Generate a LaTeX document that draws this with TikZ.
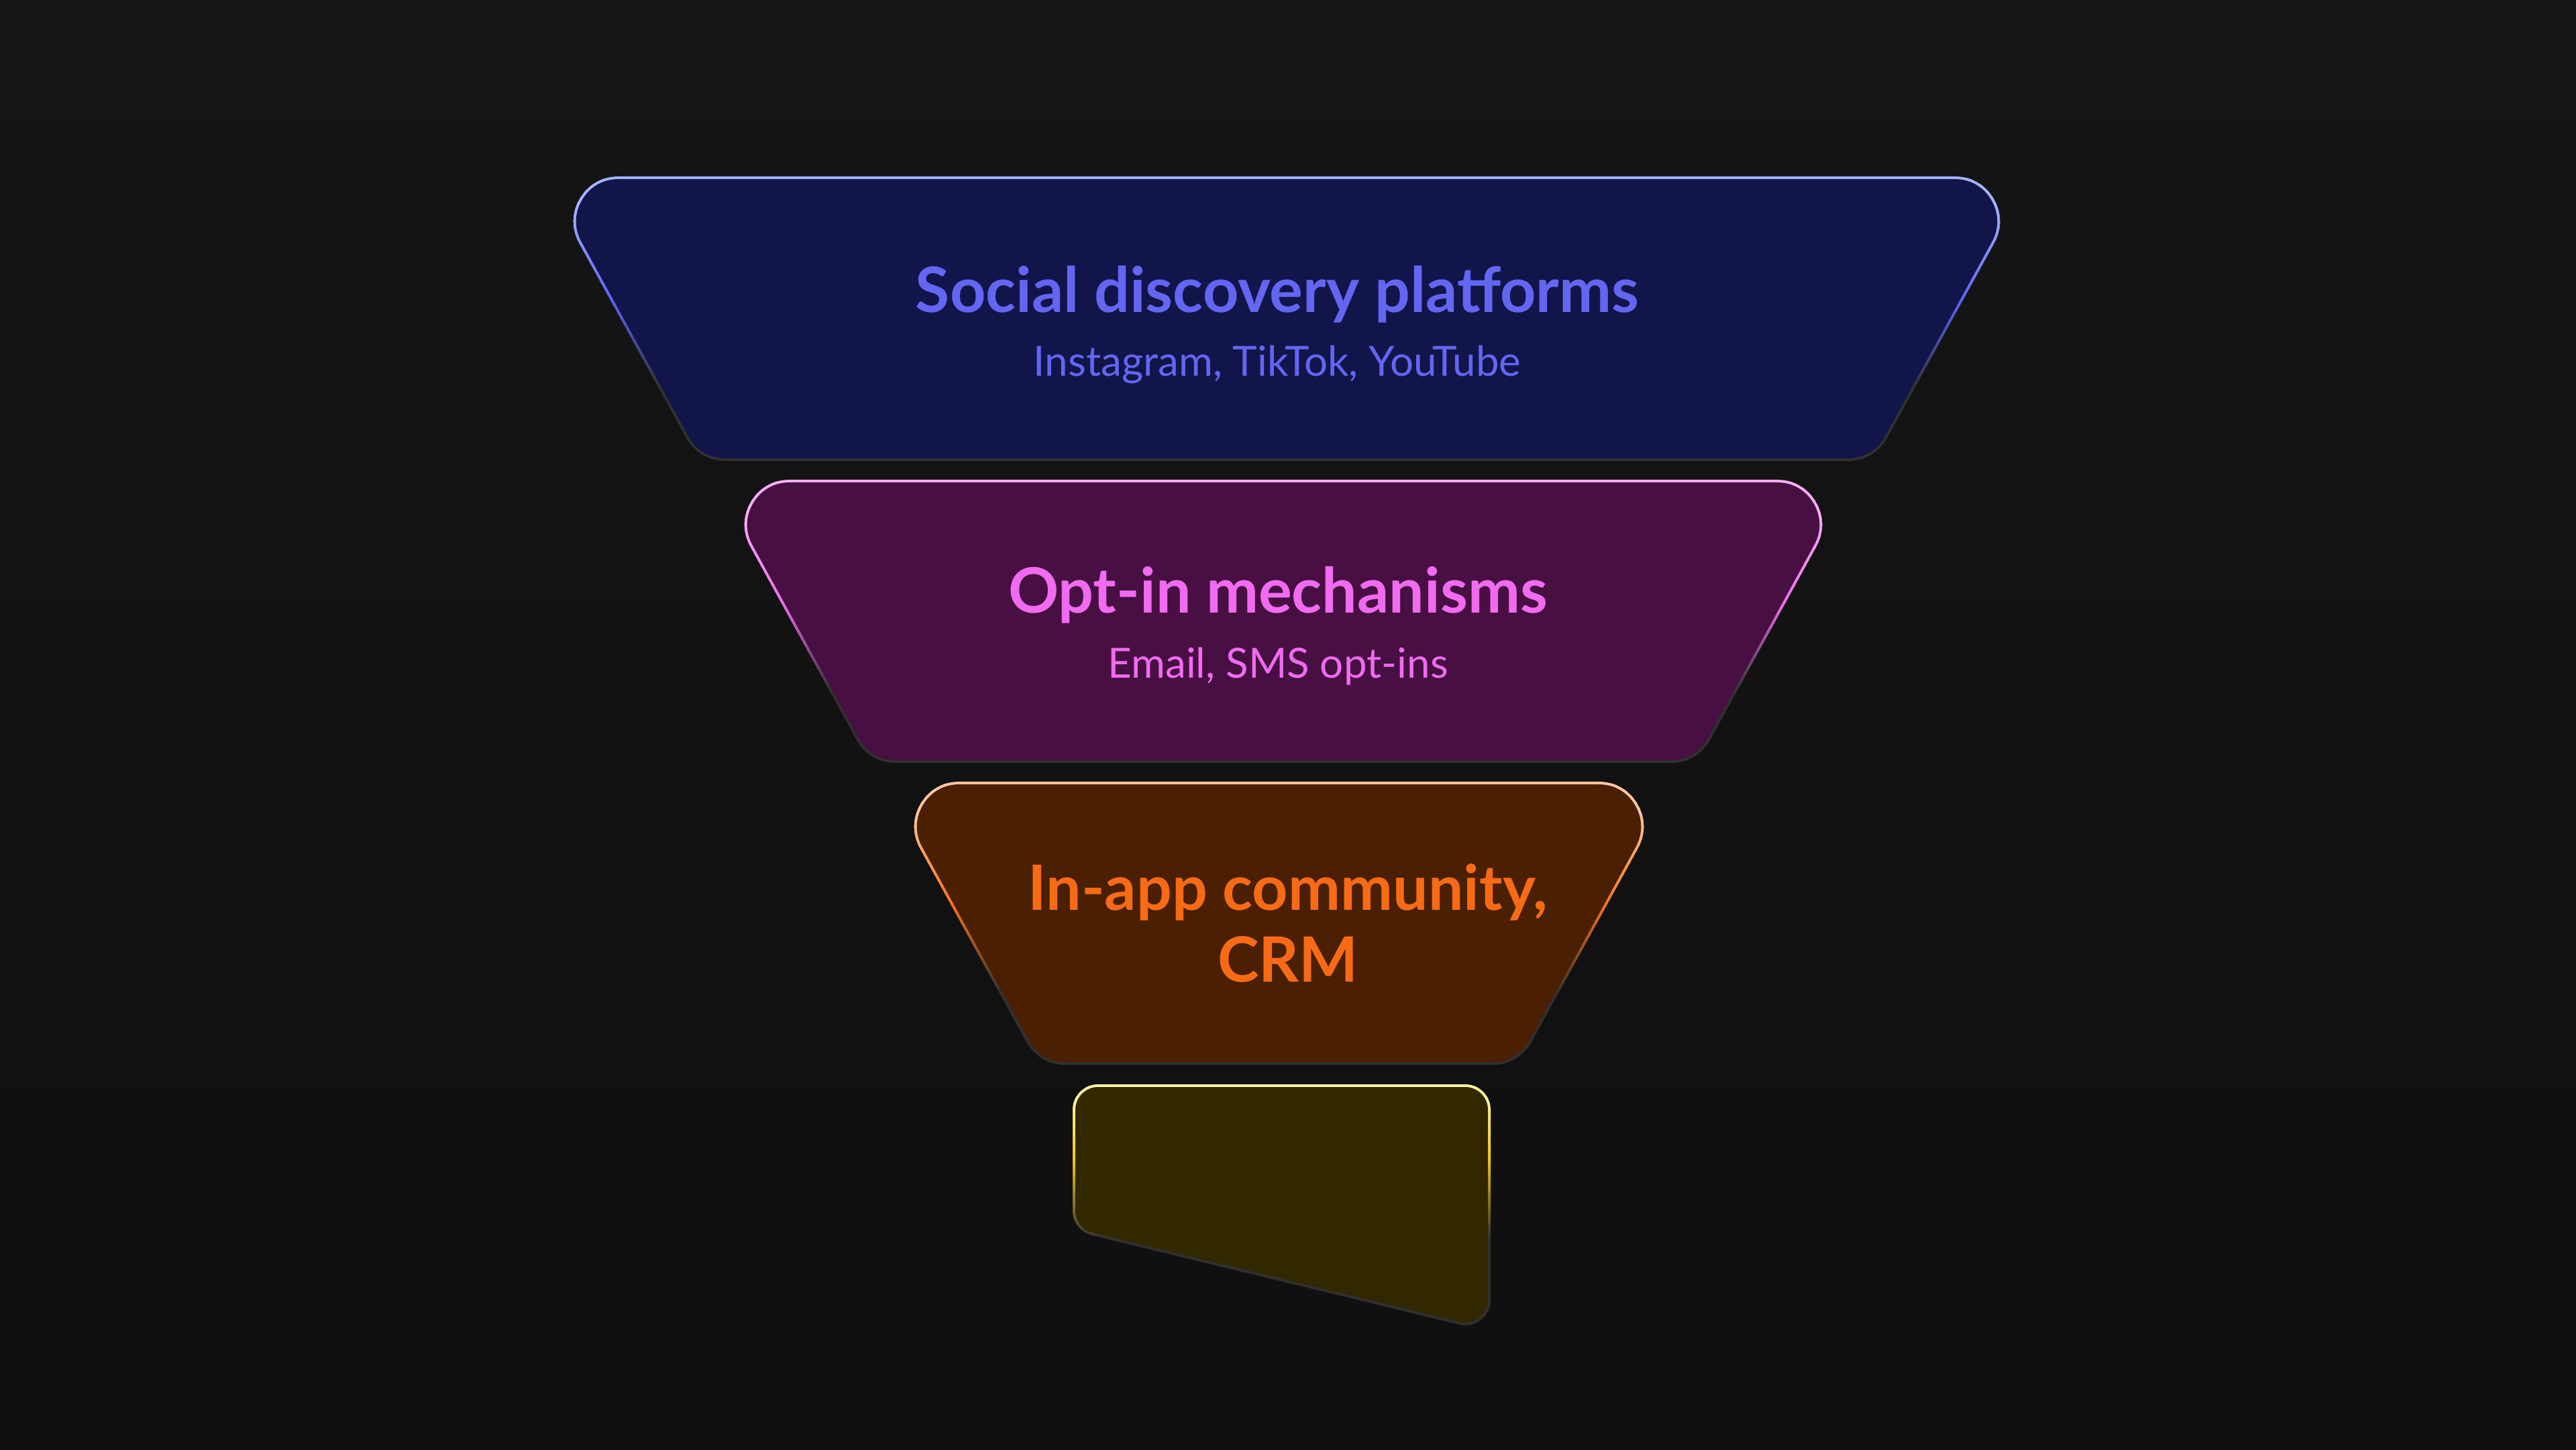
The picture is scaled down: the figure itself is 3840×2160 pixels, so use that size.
\documentclass[tikz,border=0pt]{standalone}
\usepackage{fontspec}
\setmainfont{Lato}
\usepackage{tikz}

\definecolor{bgtop}{HTML}{151515}
\definecolor{bgbot}{HTML}{0F0F0F}
\definecolor{rimdark}{HTML}{303030}
\definecolor{stageblue}{HTML}{12154A}
\definecolor{textblue}{HTML}{6366F1}
\definecolor{rimblueA}{HTML}{A5B4FC}
\definecolor{rimblueB}{HTML}{5E63F5}
\definecolor{stagepink}{HTML}{470F42}
\definecolor{textpink}{HTML}{F06BEF}
\definecolor{rimpinkA}{HTML}{F5B0F5}
\definecolor{rimpinkB}{HTML}{EC6FEC}
\definecolor{stageorange}{HTML}{4A1F02}
\definecolor{textorange}{HTML}{F76B15}
\definecolor{rimorangeA}{HTML}{FDC8A0}
\definecolor{rimorangeB}{HTML}{F97316}
\definecolor{stageyellow}{HTML}{312800}
\definecolor{rimyellowA}{HTML}{FEF3A0}
\definecolor{rimyellowB}{HTML}{FACC15}

% rim of a stage, coloured from top to bottom (light -> strong -> dark)
\def\rimA{0.12}\def\rimB{0.44}\def\rimC{0.75}
\newcommand{\stagerim}[6]{%
  \foreach \k in {0,...,47}{%
    \pgfmathsetmacro{\pa}{min(100,max(0,((\k+0.5)/48-\rimA)/(\rimB-\rimA)*100))}%
    \pgfmathsetmacro{\pb}{min(100,max(0,((\k+0.5)/48-\rimB)/(\rimC-\rimB)*100))}%
    \colorlet{rimc}{#5!\pa!#4}%
    \colorlet{rimc}{rimdark!\pb!rimc}%
    \begin{scope}
      \clip (0,{#2+(\k-0.2)/48*(#3-#2)}) rectangle (3840,{#2+(\k+1.2)/48*(#3-#2)});
      \draw[rimc,line width=#6,line join=round] #1;
    \end{scope}}}

\begin{document}
\begin{tikzpicture}[x=0.01cm,y=-0.01cm,
		stage/.style={fill=#1,draw=#1,line join=round},
		title/.style={font=\bfseries\fontsize{26.5}{30.2}\selectfont,inner sep=0pt,anchor=base},
		sub/.style={font=\fontsize{17.6}{21}\selectfont,inner sep=0pt,anchor=base}]
	%% background
	\shade[top color=bgtop,bottom color=bgbot] (0,0) rectangle (3840,2160);
	%% social discovery
	\stagerim{(922,330) -- (2914,330) -- (2754.5,620) -- (1081.5,620) -- cycle}{258}{692}{rimblueA}{rimblueB}{1.34cm}
	\filldraw[stage=stageblue,line width=1.26cm] (922,330) -- (2914,330) -- (2754.5,620) -- (1081.5,620) -- cycle;
	\node (social) at (1904,465) [title,text=textblue] {Social discovery platforms};
	\node (socialsub) at (1904,560) [sub,text=textblue] {Instagram, TikTok, YouTube};
	%% opt-in
	\stagerim{(1177,782) -- (2649,782) -- (2490.6,1070) -- (1335.4,1070) -- cycle}{710}{1142}{rimpinkA}{rimpinkB}{1.34cm}
	\filldraw[stage=stagepink,line width=1.26cm] (1177,782) -- (2649,782) -- (2490.6,1070) -- (1335.4,1070) -- cycle;
	\node (optin) at (1905,913) [title,text=textpink] {Opt-in mechanisms};
	\node (optinsub) at (1905,1010) [sub,text=textpink] {Email, SMS opt-ins};
	%% in-app
	\stagerim{(1430,1232) -- (2383,1232) -- (2224.5,1520) -- (1588.5,1520) -- cycle}{1160}{1592}{rimorangeA}{rimorangeB}{1.34cm}
	\filldraw[stage=stageorange,line width=1.26cm] (1430,1232) -- (2383,1232) -- (2224.5,1520) -- (1588.5,1520) -- cycle;
	\node (inapp) at (1920,1463) [title,align=center,text=textorange] {In-app community,\\CRM};
	%% last stage
	\def\rimA{0.08}\def\rimB{0.3}\def\rimC{0.62}
	\stagerim{(1637,1654) -- (2184,1654) -- (2184,1937) -- (1637,1804) -- cycle}{1612}{1992}{rimyellowA}{rimyellowB}{0.76cm}
	\filldraw[stage=stageyellow,line width=0.68cm] (1637,1654) -- (2184,1654) -- (2184,1937) -- (1637,1804) -- cycle;
\end{tikzpicture}
\end{document}
